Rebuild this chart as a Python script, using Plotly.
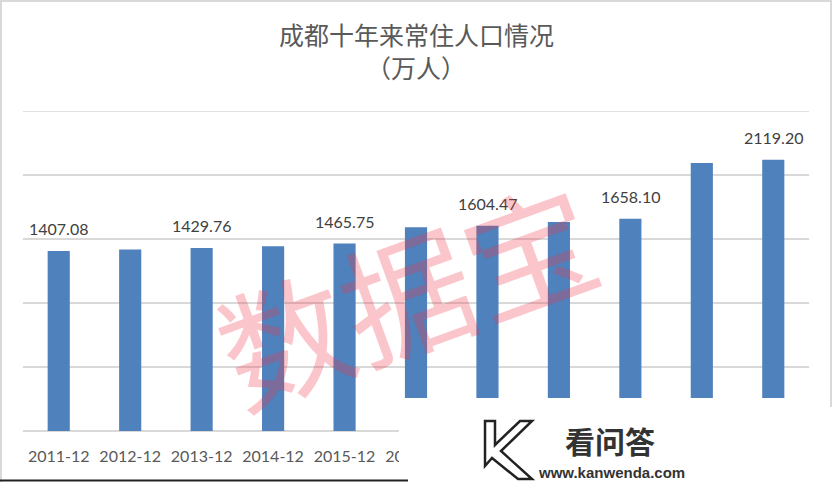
import plotly.graph_objects as go

# 成都常住人口（万人）
years = ["2011-12", "2012-12", "2013-12", "2014-12", "2015-12", "2016-12",
         "2017-12", "2018-12", "2019-12", "2020-12", "2021-12"]
population = [1407.08, 1417.78, 1429.76, 1442.80, 1465.75, 1591.76,
              1604.47, 1633.00, 1658.10, 2093.78, 2119.20]
labeled = [0, 2, 4, 6, 8, 10]  # 只标注隔一个的数值
y_max = 2500

W, H = 832, 482
ML, MR, MT, MB = 23, 23, 111, 51
PW, PH = W - ML - MR, H - MT - MB


def xp(px):
    return (px - ML) / PW


def yp(py):
    return (H - MB - py) / PH


fig = go.Figure()
fig.add_trace(go.Bar(
    x=years, y=population,
    marker=dict(color="#4f81bd", line=dict(width=0)),
    hoverinfo="x+y",
))

annotations = []
for i in labeled:
    annotations.append(dict(
        x=years[i], y=population[i], xref="x", yref="y",
        text=f"{population[i]:.2f}", showarrow=False,
        xanchor="center", yanchor="middle", yshift=22,
        font=dict(family="Lato, Liberation Sans", size=16, color="#404040"),
    ))


def paper_text(px, py, text, font, angle=0):
    annotations.append(dict(
        x=xp(px), y=yp(py), xref="paper", yref="paper",
        xanchor="center", yanchor="middle",
        text=text, showarrow=False, textangle=angle, font=font,
    ))


# 标题
title_font = dict(family="Noto Sans CJK SC", size=25, color="#595959")
paper_text(416, 34, "成都十年来常住人口情况", title_font)
paper_text(416, 67, "（万人）", title_font)

# 水印
paper_text(405, 290, "数据宝",
           dict(family="Noto Sans CJK SC", size=130, color="rgba(240,50,70,0.28)"),
           angle=-20)

# 看问答 logo
paper_text(610, 440, "<b>看问答</b>",
           dict(family="Noto Sans CJK SC", size=30, color="#333333"))
paper_text(611, 472, "<b>www.kanwenda.com</b>",
           dict(family="Liberation Sans", size=15, color="#333333"))

k_pts = [(485, 421), (495, 421), (495, 445), (520, 421), (532, 421),
         (501, 451), (532, 479), (518, 479), (492, 458), (485, 466)]
k_path = "M " + " L ".join(f"{xp(a):.4f},{yp(b):.4f}" for a, b in k_pts) + " Z"

shapes = [
    # 顶部网格线
    dict(type="line", xref="paper", yref="y", layer="below",
         x0=0, x1=1, y0=y_max, y1=y_max,
         line=dict(color="#d9d9d9", width=1.5)),
    # 白色遮挡块
    dict(type="rect", xref="paper", yref="paper", layer="above",
         x0=xp(399), x1=xp(833), y0=yp(398), y1=yp(483),
         fillcolor="white", line=dict(width=0)),
    dict(type="path", xref="paper", yref="paper", layer="above", path=k_path,
         fillcolor="white", line=dict(color="#222222", width=2.5)),
    # 外框
    dict(type="line", xref="paper", yref="paper", layer="above",
         x0=xp(1), x1=xp(1), y0=yp(0), y1=yp(482),
         line=dict(color="#d9d9d9", width=2)),
    dict(type="line", xref="paper", yref="paper", layer="above",
         x0=xp(0), x1=xp(832), y0=yp(1), y1=yp(1),
         line=dict(color="#d9d9d9", width=2)),
    dict(type="line", xref="paper", yref="paper", layer="above",
         x0=xp(831), x1=xp(831), y0=yp(0), y1=yp(407),
         line=dict(color="#d9d9d9", width=2)),
    dict(type="line", xref="paper", yref="paper", layer="above",
         x0=xp(0), x1=xp(408), y0=yp(480.5), y1=yp(480.5),
         line=dict(color="#222222", width=2)),
]

fig.update_layout(
    width=W, height=H,
    margin=dict(l=ML, r=MR, t=MT, b=MB),
    paper_bgcolor="white", plot_bgcolor="white",
    showlegend=False, bargap=0.69,
    annotations=annotations, shapes=shapes,
)
fig.update_xaxes(
    type="category",
    showgrid=False, showline=False, ticks="",
    ticklabelstandoff=14,
    tickfont=dict(family="Lato, Liberation Sans", size=16, color="#595959"),
)
fig.update_yaxes(
    range=[0, y_max], dtick=500, showticklabels=False,
    showgrid=True, gridcolor="#d9d9d9", gridwidth=1.5,
    zeroline=True, zerolinecolor="#d9d9d9", zerolinewidth=1.5,
    showline=False,
)

fig.write_html("out.html", config={"displayModeBar": False},
               post_script="document.body.style.margin='0';")
